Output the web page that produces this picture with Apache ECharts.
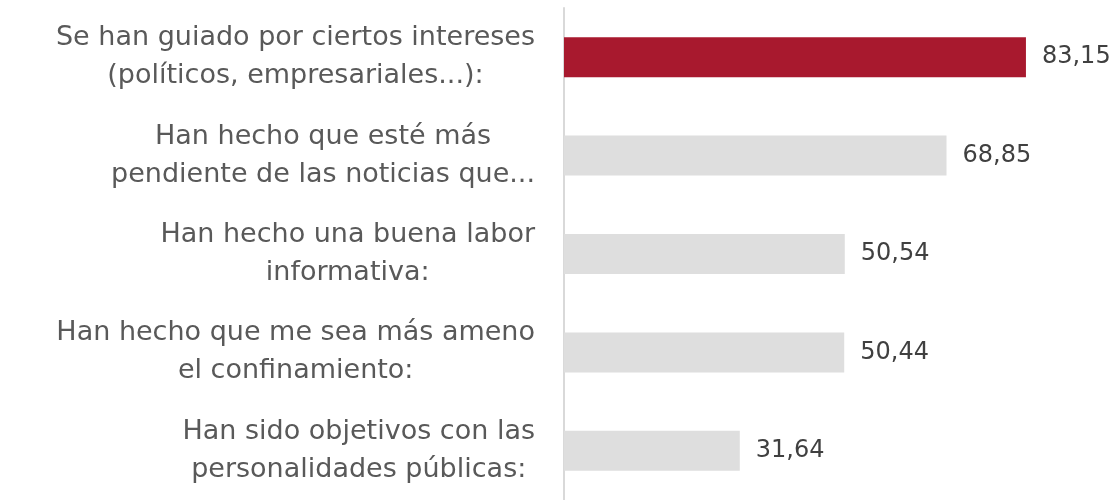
<!DOCTYPE html>
<html>
<head>
<meta charset="utf-8">
<script src="https://cdn.jsdelivr.net/npm/echarts@6/dist/echarts.min.js"></script>
<style>
  html, body { margin: 0; padding: 0; background: #fff; }
  #chart { width: 1112px; height: 500px; }
</style>
</head>
<body>
<div id="chart"></div>
<script>
// categories top to bottom, each split into its two lines
const categories = [
  ['Se han guiado por ciertos intereses', '(políticos, empresariales...):'],
  ['Han hecho que esté más', 'pendiente de las noticias que...'],
  ['Han hecho una buena labor', 'informativa:'],
  ['Han hecho que me sea más ameno', 'el confinamiento:'],
  ['Han sido objetivos con las', 'personalidades públicas:']
];
const values = [83.15, 68.85, 50.54, 50.44, 31.64];
const highlightIndex = 0;

const chart = echarts.init(document.getElementById('chart'));

// y category axis draws first item at the bottom, so reverse
const yData = categories.map(c => c.join('\n')).reverse();
const seriesData = values.map((v, i) => ({
  value: v,
  itemStyle: { color: i === highlightIndex ? '#A8192E' : '#DEDEDE' }
})).reverse();

const fmt = v => v.toFixed(2).replace('.', ',');

const option = {
  animation: false,
  grid: {
    left: 564,
    top: 8,
    width: 500,
    height: 496
  },
  xAxis: {
    type: 'value',
    min: 0,
    max: 90,
    show: false
  },
  yAxis: {
    type: 'category',
    data: yData,
    axisLine: {
      lineStyle: { color: '#D9D9D9', width: 2 }
    },
    axisTick: { show: false },
    axisLabel: {
      margin: 29,
      align: 'right',
      formatter: v => v.split('\n').map(l => '{c|' + l + '}').join('\n'),
      rich: {
        c: {
          align: 'center',
          fontFamily: 'DejaVu Sans',
          fontSize: 27,
          lineHeight: 38,
          color: '#595959'
        }
      }
    }
  },
  series: [
    {
      type: 'bar',
      data: seriesData,
      barWidth: 40,
      label: {
        show: true,
        position: 'right',
        distance: 16,
        formatter: p => fmt(p.value),
        fontFamily: 'DejaVu Sans',
        fontSize: 24,
        color: '#404040'
      }
    }
  ]
};

chart.setOption(option);

window.addEventListener('resize', () => {
  chart.resize();
});
</script>
</body>
</html>
